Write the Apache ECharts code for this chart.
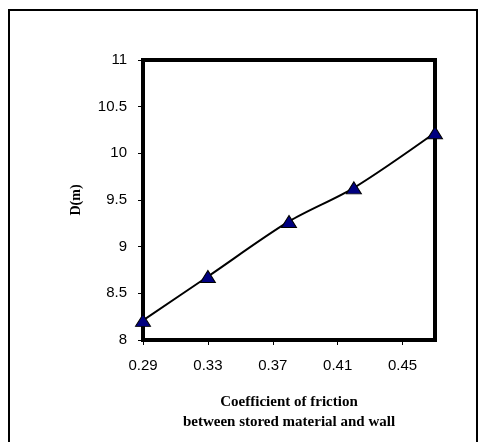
<!DOCTYPE html>
<html><head><meta charset="utf-8">
<script src="https://cdn.jsdelivr.net/npm/echarts@6/dist/echarts.min.js"></script>
<style>html,body{margin:0;padding:0;background:#fff}#c{width:479px;height:442px}</style>
</head><body><div id="c"></div>
<script>
const xValues = [0.29, 0.33, 0.38, 0.42, 0.47];
const dValues = [8.21, 8.68, 9.27, 9.63, 10.22];
const xTicks = [0.29, 0.33, 0.37, 0.41, 0.45];
const yTicks = [8, 8.5, 9, 9.5, 10, 10.5, 11];
const xTitle = 'Coefficient of friction\nbetween stored material and wall';
const yTitle = 'D(m)';

const chart = echarts.init(document.getElementById('c'), null, {renderer: 'canvas'});
chart.setOption({
  animation: false,
  backgroundColor: '#fff',
  graphic: [{
    type: 'rect', shape: {x: 9, y: 10, width: 468, height: 440},
    style: {fill: 'none', stroke: '#000', lineWidth: 2}, silent: true, z: 0
  }],
  grid: {left: 143, top: 60, width: 292, height: 280, show: true,
         borderColor: '#000', borderWidth: 4, backgroundColor: '#fff'},
  xAxis: {
    type: 'value', min: 0.29, max: 0.47,
    axisLine: {show: false},
    splitLine: {show: false},
    axisTick: {show: true, customValues: xTicks, length: 5, lineStyle: {color: '#000', width: 1}},
    axisLabel: {customValues: xTicks, color: '#000', fontFamily: 'Liberation Sans', fontSize: 15, margin: 18,
                formatter: v => v.toFixed(2)},
    name: xTitle, nameLocation: 'middle', nameGap: 52,
    nameTextStyle: {fontFamily: 'Liberation Serif', fontWeight: 'bold', fontSize: 15, color: '#000', lineHeight: 20}
  },
  yAxis: {
    type: 'value', min: 8, max: 11,
    axisLine: {show: false},
    splitLine: {show: false},
    axisTick: {show: true, customValues: yTicks, length: 5, lineStyle: {color: '#000', width: 1}},
    axisLabel: {customValues: yTicks, color: '#000', fontFamily: 'Liberation Sans', fontSize: 15, margin: 16},
    name: yTitle, nameLocation: 'middle', nameGap: 60, nameRotate: 90,
    nameTextStyle: {fontFamily: 'Liberation Serif', fontWeight: 'bold', fontSize: 14, color: '#000'}
  },
  series: [{
    type: 'line',
    data: xValues.map((x, i) => [x, dValues[i]]),
    smooth: 0.3,
    clip: false,
    z: 10,
    lineStyle: {color: '#000', width: 2},
    symbol: 'triangle', symbolSize: [15, 12],
    itemStyle: {color: '#000080', borderColor: '#000', borderWidth: 1}
  }]
});
</script></body></html>
